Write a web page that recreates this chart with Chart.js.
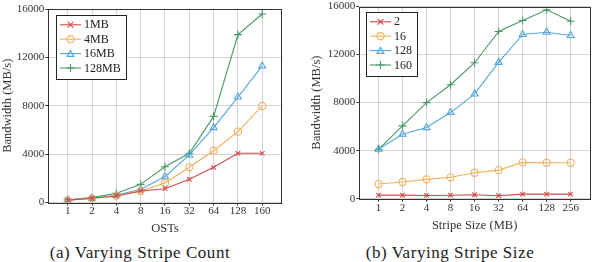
<!DOCTYPE html>
<html>
<head>
<meta charset="utf-8">
<script src="https://cdn.jsdelivr.net/npm/chart.js"></script>
<style>
  html, body { margin: 0; padding: 0; background: #fff; }
  #wrap { position: relative; width: 595px; height: 262px; overflow: hidden; }
  .cv { position: absolute; top: 0; }
  .cap { position: absolute; font-family: "Liberation Serif", "DejaVu Serif", "Noto Serif", "Times New Roman", Times, "Nimbus Roman", "FreeSerif", Tinos, serif;
         font-size: 17px; letter-spacing: 0.55px;
         color: #222; white-space: nowrap; transform: translate(-50%, -50%); }
</style>
</head>
<body>
<div id="wrap">
  <div class="cv" style="left:0px;width:290px;height:240px;"><canvas id="c1" width="290" height="240"></canvas></div>
  <div class="cv" style="left:305px;width:290px;height:240px;"><canvas id="c2" width="290" height="240"></canvas></div>
  <div class="cap" style="left:140px;top:253px;">(a) Varying Stripe Count</div>
  <div class="cap" style="left:450px;top:253px;">(b) Varying Stripe Size</div>
</div>
<script>
// ---- data ----
const ostLabels = ['1', '2', '4', '8', '16', '32', '64', '128', '160'];
const count1MB   = [200, 350, 540, 950, 1140, 1920, 2910, 4070, 4070];
const count4MB   = [200, 330, 550, 950, 1610, 2910, 4280, 5860, 7980];
const count16MB  = [200, 350, 600, 1090, 2130, 3930, 6190, 8720, 11290];
const count128MB = [230, 400, 760, 1500, 2960, 4070, 7120, 13880, 15590];

const sizeLabels = ['1', '2', '4', '8', '16', '32', '64', '128', '256'];
const size2   = [300, 300, 270, 290, 330, 250, 380, 380, 380];
const size16  = [1220, 1390, 1610, 1780, 2160, 2380, 3020, 2990, 2990];
const size128 = [4120, 5370, 5920, 7170, 8720, 11350, 13670, 13860, 13590];
const size160 = [4100, 6060, 8000, 9490, 11320, 13920, 14830, 15720, 14770];

const yTicks = [0, 4000, 8000, 12000, 16000];

// ---- styles ----
const RED = '#d24a4a', ORANGE = '#f2b15a', BLUE = '#55a6da', GREEN = '#4a9866';
const SERIF = '"Liberation Serif", "DejaVu Serif", "Noto Serif", "Times New Roman", Times, "Nimbus Roman", FreeSerif, Tinos, serif';
const styles = [
  {color: RED, point: 'crossRot', r: 3.2},
  {color: ORANGE, point: 'circle', r: 3.6},
  {color: BLUE, point: 'triangle', r: 4},
  {color: GREEN, point: 'cross', r: 4}
];

function mkDataset(label, values, i) {
  const s = styles[i];
  return {
    label: label,
    data: values.map((v, k) => ({x: k, y: v})),
    borderColor: s.color,
    backgroundColor: 'rgba(0,0,0,0)',
    pointBorderColor: s.color,
    pointBackgroundColor: 'rgba(0,0,0,0)',
    pointStyle: s.point,
    pointRadius: s.r,
    pointBorderWidth: 1.1,
    borderWidth: 1.1,
    tension: 0
  };
}

function drawMarker(ctx, style, x, y, r) {
  ctx.beginPath();
  if (style === 'circle') {
    ctx.arc(x, y, r, 0, Math.PI * 2);
  } else if (style === 'triangle') {
    for (let k = 0; k < 3; k++) {
      const a = -Math.PI / 2 + k * 2 * Math.PI / 3;
      const px = x + r * Math.cos(a), py = y + r * Math.sin(a) + r * 0.2;
      if (k === 0) ctx.moveTo(px, py); else ctx.lineTo(px, py);
    }
    ctx.closePath();
  } else if (style === 'cross') {
    ctx.moveTo(x - r, y); ctx.lineTo(x + r, y);
    ctx.moveTo(x, y - r); ctx.lineTo(x, y + r);
  } else if (style === 'crossRot') {
    const d = r * 0.9;
    ctx.moveTo(x - d, y - d); ctx.lineTo(x + d, y + d);
    ctx.moveTo(x - d, y + d); ctx.lineTo(x + d, y - d);
  }
  ctx.stroke();
}

const framePlugin = {
  id: 'frameLegend',
  afterDraw(chart, args, opts) {
    const ctx = chart.ctx, a = chart.chartArea;
    ctx.save();
    ctx.strokeStyle = '#333';
    ctx.lineWidth = 1;
    ctx.strokeRect(Math.round(a.left) + 0.5, Math.round(a.top) + 0.5,
                   Math.round(a.right - a.left), Math.round(a.bottom - a.top));
    ctx.font = '12px ' + SERIF;
    const ds = chart.data.datasets;
    let tw = 0;
    ds.forEach(d => { tw = Math.max(tw, ctx.measureText(d.label).width); });
    const x0 = Math.round(a.left + opts.dx) + 0.5, y0 = Math.round(a.top + opts.dy) + 0.5;
    const rowH = 14.4;
    const w = Math.round(28 + tw + 5), h = Math.round(rowH * ds.length + 6.5);
    ctx.fillStyle = '#fff';
    ctx.fillRect(x0, y0, w, h);
    ctx.strokeStyle = '#222';
    ctx.lineWidth = 1;
    ctx.strokeRect(x0, y0, w, h);
    ds.forEach((d, i) => {
      const cy = y0 + 9.3 + i * rowH;
      ctx.strokeStyle = d.borderColor;
      ctx.lineWidth = 1.1;
      ctx.beginPath();
      ctx.moveTo(x0 + 3.5, cy); ctx.lineTo(x0 + 24.5, cy);
      ctx.stroke();
      drawMarker(ctx, d.pointStyle, x0 + 14, cy, d.pointRadius);
      ctx.fillStyle = '#222';
      ctx.textBaseline = 'middle';
      ctx.textAlign = 'left';
      ctx.fillText(d.label, x0 + 27.5, cy + 0.5);
    });
    ctx.restore();
  }
};

function makeChart(id, cats, datasets, xTitle, cfg) {
  return new Chart(document.getElementById(id), {
    type: 'line',
    data: {datasets: datasets},
    plugins: [framePlugin],
    options: {
      responsive: false,
      animation: false,
      devicePixelRatio: 1,
      layout: {padding: {left: 0, right: cfg.pr, top: cfg.pt, bottom: cfg.pb}},
      plugins: {
        legend: {display: false},
        tooltip: {enabled: false},
        frameLegend: {dx: cfg.ldx, dy: cfg.ldy}
      },
      scales: {
        x: {
          type: 'linear',
          min: -0.8,
          max: 8.8,
          afterBuildTicks: (s) => { s.ticks = cats.map((c, k) => ({value: k})); },
          afterFit: (s) => { s.height = cfg.xh; },
          ticks: {
            callback: (v) => cats[v],
            font: {family: SERIF, size: 11, lineHeight: 1.1},
            color: '#333',
            padding: 0,
            maxRotation: 0,
            autoSkip: false
          },
          grid: {color: '#d4d4d4', lineWidth: 1, tickLength: 3, tickColor: '#333'},
          border: {display: false},
          title: {display: true, text: xTitle, font: {family: SERIF, size: 12.5, lineHeight: 1.2}, color: '#333', padding: 0}
        },
        y: {
          min: 0,
          max: 16000,
          afterBuildTicks: (s) => { s.ticks = yTicks.map(v => ({value: v})); },
          afterFit: (s) => { s.width = cfg.yw; },
          ticks: {callback: (v) => String(v), font: {family: SERIF, size: 11, lineHeight: 1}, color: '#333', padding: 1},
          grid: {color: '#d4d4d4', lineWidth: 1, tickLength: 3, tickColor: '#333'},
          border: {display: false},
          title: {display: true, text: 'Bandwidth (MB/s)', font: {family: SERIF, size: 12.5, lineHeight: 1.2}, color: '#333',
                  padding: {top: cfg.ytp, bottom: 0}}
        }
      }
    }
  });
}

makeChart('c1', ostLabels, [
  mkDataset('1MB', count1MB, 0),
  mkDataset('4MB', count4MB, 1),
  mkDataset('16MB', count16MB, 2),
  mkDataset('128MB', count128MB, 3)
], 'OSTs', {pr: 8.3, pt: 9, pb: 4, xh: 33.5, yw: 48.3, ytp: 0, ldx: 7.4, ldy: 6});

makeChart('c2', sizeLabels, [
  mkDataset('2', size2, 0),
  mkDataset('16', size16, 1),
  mkDataset('128', size128, 2),
  mkDataset('160', size160, 3)
], 'Stripe Size (MB)', {pr: 2.3, pt: 6, pb: 6.5, xh: 34.8, yw: 54.3, ytp: 4.5, ldx: 6.7, ldy: 5});
</script>
</body>
</html>
